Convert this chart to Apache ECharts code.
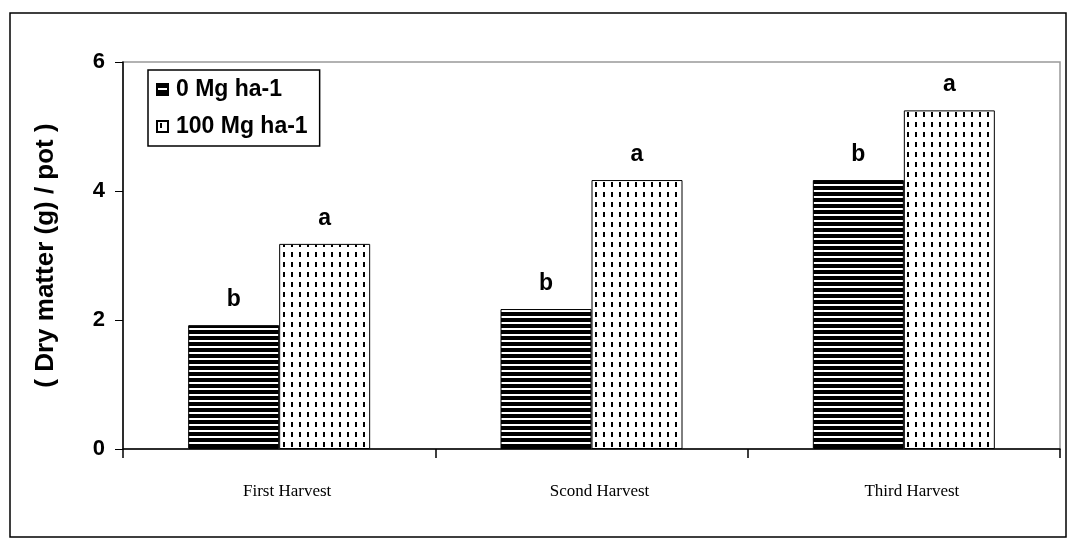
<!DOCTYPE html>
<html lang="en">
<head>
  <meta charset="UTF-8">
  <title>Dry matter per pot</title>
  <script src="https://cdn.jsdelivr.net/npm/echarts/dist/echarts.min.js"></script>
  <style>
    html, body { margin: 0; padding: 0; background: #fff; }
    #chart { width: 1068px; height: 540px; }
  </style>
</head>
<body>
<div id="chart"></div>

<script>
    // chart data
    const categories = ['First Harvest', 'Scond Harvest', 'Third Harvest'];
    const seriesNames = ['0 Mg ha-1', '100 Mg ha-1'];
    const control = [1.92, 2.17, 4.17];
    const treated = [3.18, 4.17, 5.25];
    const controlLetters = ['b', 'b', 'b'];
    const treatedLetters = ['a', 'a', 'a'];
    const yTicks = [0, 2, 4, 6];

    // horizontal stripes
    function stripePattern() {
        const c = document.createElement('canvas');
        c.width = 8; c.height = 6;
        const g = c.getContext('2d');
        g.fillStyle = '#fff'; g.fillRect(0, 0, 8, 6);
        g.fillStyle = '#000'; g.fillRect(0, 0, 8, 4);
        return { image: c, repeat: 'repeat' };
    }

    // small vertical dashes
    function dashPattern() {
        const c = document.createElement('canvas');
        c.width = 8; c.height = 10;
        const g = c.getContext('2d');
        g.fillStyle = '#fff'; g.fillRect(0, 0, 8, 10);
        g.fillStyle = '#000'; g.fillRect(3, 2, 2, 5);
        return { image: c, repeat: 'repeat' };
    }

    const bold = { fontFamily: 'Liberation Sans, Arial', fontWeight: 'bold', color: '#000' };

    const chart = echarts.init(document.getElementById('chart'));
    chart.setOption({
        backgroundColor: '#fff',
        animation: false,
        graphic: [{
            type: 'rect',
            shape: { x: 10, y: 13, width: 1056, height: 524 },
            style: { fill: 'none', stroke: '#000', lineWidth: 1.5 },
            z: -1
        }],
        grid: {
            left: 123, right: 8, top: 62, bottom: 91,
            show: true, borderColor: '#999', borderWidth: 1.5
        },
        legend: {
            orient: 'vertical',
            left: 148, top: 70,
            padding: [8, 12, 8, 8],
            itemGap: 14,
            itemWidth: 11, itemHeight: 11,
            icon: 'rect',
            borderColor: '#000', borderWidth: 1.5,
            backgroundColor: '#fff',
            textStyle: Object.assign({ fontSize: 23, padding: [0, 0, 0, 3] }, bold),
            data: seriesNames
        },
        xAxis: {
            type: 'category',
            data: categories,
            axisLine: { lineStyle: { color: '#000', width: 1.5 } },
            axisTick: { show: true, interval: 0, length: 9, lineStyle: { color: '#000', width: 1.5 } },
            axisLabel: {
                margin: 34,
                fontFamily: 'Liberation Serif, Times New Roman',
                fontSize: 17,
                color: '#000',
                padding: [0, 0, 0, 16]
            }
        },
        yAxis: {
            type: 'value',
            min: yTicks[0],
            max: yTicks[yTicks.length - 1],
            interval: 2,
            name: '( Dry matter (g) / pot )',
            nameLocation: 'middle',
            nameGap: 64,
            nameTextStyle: Object.assign({ fontSize: 26 }, bold),
            axisLine: { show: true, lineStyle: { color: '#000', width: 1.5 } },
            axisTick: { show: true, length: 8, lineStyle: { color: '#000' } },
            splitLine: { show: false },
            axisLabel: Object.assign({ fontSize: 22, margin: 18 }, bold)
        },
        series: [
            {
                name: seriesNames[0],
                type: 'bar',
                data: control,
                barWidth: 91,
                barGap: '0%',
                itemStyle: { color: stripePattern(), borderColor: '#000', borderWidth: 1 },
                label: Object.assign({
                    show: true, position: 'top', distance: 14, fontSize: 23,
                    formatter: p => controlLetters[p.dataIndex]
                }, bold)
            },
            {
                name: seriesNames[1],
                type: 'bar',
                data: treated,
                barWidth: 91,
                itemStyle: { color: dashPattern(), borderColor: '#000', borderWidth: 1 },
                label: Object.assign({
                    show: true, position: 'top', distance: 14, fontSize: 23,
                    formatter: p => treatedLetters[p.dataIndex]
                }, bold)
            }
        ]
    });
</script>
</body>
</html>
